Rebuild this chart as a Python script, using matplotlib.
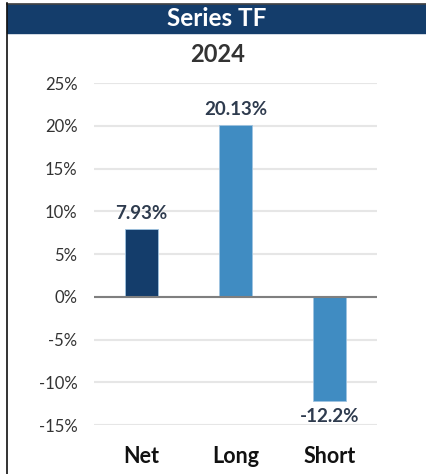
import numpy as np
import matplotlib.pyplot as plt
from matplotlib.patches import Rectangle
from matplotlib.lines import Line2D
from matplotlib.ticker import FuncFormatter

plt.rcParams['font.family'] = ['Lato', 'DejaVu Sans']

categories = ['Net', 'Long', 'Short']
values = [7.93, 20.13, -12.2]
value_labels = ['7.93%', '20.13%', '-12.2%']
bar_colors = ['#143D6B', '#408CC2', '#408CC2']
yticks = [-15, -10, -5, 0, 5, 10, 15, 20, 25]

fig = plt.figure(figsize=(4.27, 4.74), dpi=100)
W, H = 427.0, 474.0

# header band + left frame line
fig.patches.append(Rectangle((7 / W, 1 - 33 / H), 1 - 7 / W, 29.5 / H,
                             transform=fig.transFigure, color='#143D6B', zorder=0))
fig.lines.append(Line2D([7 / W, 1], [1 - 3.5 / H, 1 - 3.5 / H], transform=fig.transFigure,
                        color='#444444', lw=1.2))
fig.lines.append(Line2D([7 / W, 7 / W], [0, 1 - 3 / H], transform=fig.transFigure,
                        color='#111111', lw=1.2))
fig.text((7 / W + 1) / 2, 1 - 18.5 / H, 'Series TF', color='white', fontsize=17.5,
         fontweight='bold', ha='center', va='center')
fig.text(218 / W, 1 - 54 / H, '2024', color='#333333', fontsize=17,
         fontweight='bold', ha='center', va='center')

ax = fig.add_axes([94 / W, 1 - 425 / H, 283 / W, 342 / H])
x = np.arange(len(categories))
bars = ax.bar(x, values, width=0.35, color=bar_colors, edgecolor='#9EC3E0', linewidth=0.6, zorder=3)

ax.set_xlim(-0.5, 2.5)
ax.set_ylim(-15, 25)
ax.set_yticks(yticks)
ax.yaxis.set_major_formatter(FuncFormatter(lambda v, p: '%d%%' % v))
ax.grid(axis='y', color='#E6E6E6', lw=1.5, zorder=0)
ax.axhline(0, color='#7F7F7F', lw=1.5, zorder=4)
for s in ax.spines.values():
    s.set_visible(False)
ax.tick_params(axis='y', length=0, pad=12, labelsize=12, labelcolor='#333333')
ax.tick_params(axis='x', length=0, pad=15)
ax.set_xticks(x)
ax.set_xticklabels(categories, fontsize=15.5, fontweight='bold', color='#111111')

for i, v in enumerate(values):
    off = 1.75 if v > 0 else -1.75
    ax.text(x[i], v + off, value_labels[i], ha='center', va='center', fontsize=13.5,
            fontweight='bold', color='#2E3B4E', zorder=5)

plt.savefig('out.png', dpi=100)
